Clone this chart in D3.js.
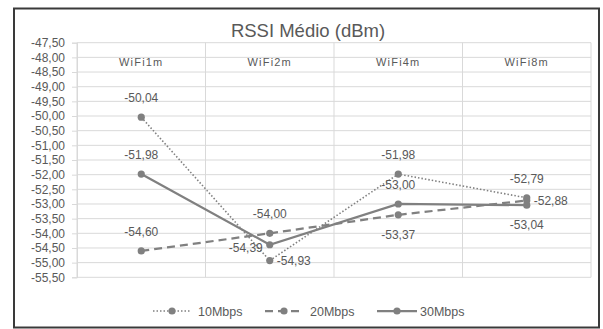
<!DOCTYPE html>
<html>
<head>
<meta charset="utf-8">
<script src="https://cdn.jsdelivr.net/npm/d3@7"></script>
<style>
  html, body { margin: 0; padding: 0; background: #fff; }
  svg { display: block; font-family: "Liberation Sans", Arial, sans-serif; }
</style>
</head>
<body>
<svg id="chart" width="603" height="329"></svg>
<script>
// Categories (test distances) and mean RSSI per throughput series, in dBm
const categories = ["WiFi1m", "WiFi2m", "WiFi4m", "WiFi8m"];
const series10 = [-50.04, -54.93, -51.98, -52.79];
const series20 = [-54.60, -54.00, -53.37, -52.88];
const series30 = [-51.98, -54.39, -53.00, -53.04];
const seriesNames = ["10Mbps", "20Mbps", "30Mbps"];
const yTicks = [-47.5, -48, -48.5, -49, -49.5, -50, -50.5, -51, -51.5, -52, -52.5, -53, -53.5, -54, -54.5, -55, -55.5];

// Where each value label sits relative to its point
const labelSide10 = ["above", "right", "above", "above"];
const labelSide20 = ["above", "above", "below", "right"];
const labelSide30 = ["above", "left", "above", "below"];

const svg = d3.select("#chart");
const ink = "#595959";
const lineColor = "#808080";
// Decimal comma and a plain hyphen for the sign
const fmt = v => d3.format(".2f")(v).replace(".", ",").replace("\u2212", "-");

// Chart frame
svg.append("rect")
  .attr("x", 14).attr("y", 8.5).attr("width", 585).attr("height", 319)
  .attr("fill", "#fff").attr("stroke", "#3a3a3a").attr("stroke-width", 2);

// Title
svg.append("text")
  .attr("x", 308).attr("y", 37)
  .attr("text-anchor", "middle")
  .attr("font-size", 18.5).attr("fill", ink)
  .text("RSSI Médio (dBm)");

const plot = { left: 77, right: 591, top: 42.7, bottom: 277.3 };

const x = d3.scaleBand().domain(categories).range([plot.left, plot.right]);
const y = d3.scaleLinear().domain([-55.5, -47.5]).range([plot.bottom, plot.top]);

// Horizontal gridlines
svg.append("g").selectAll("line").data(yTicks).join("line")
  .attr("x1", plot.left).attr("x2", plot.right)
  .attr("y1", d => y(d)).attr("y2", d => y(d))
  .attr("stroke", "#d9d9d9").attr("stroke-width", 1);

// Vertical category separators
const bounds = categories.map(c => x(c)).concat([plot.right]);
svg.append("g").selectAll("line").data(bounds).join("line")
  .attr("x1", d => d).attr("x2", d => d)
  .attr("y1", plot.top).attr("y2", plot.bottom)
  .attr("stroke", "#d9d9d9").attr("stroke-width", 1);

// Y axis with tick labels
const yAxis = d3.axisLeft(y).tickValues(yTicks).tickFormat(fmt).tickSize(5).tickPadding(7);
const gy = svg.append("g").attr("transform", `translate(${plot.left},0)`).call(yAxis);
gy.select(".domain").attr("stroke", "#d9d9d9");
gy.selectAll(".tick line").attr("stroke", "#d9d9d9");
gy.selectAll(".tick text").attr("fill", ink).attr("font-size", 12)
  .attr("font-family", "Liberation Sans, Arial, sans-serif");

// Category labels along the top
const xAxis = d3.axisTop(x).tickSize(0).tickPadding(0);
const gx = svg.append("g").attr("transform", `translate(0,${plot.top + 23})`).call(xAxis);
gx.select(".domain").remove();
gx.selectAll(".tick text").attr("fill", ink).attr("font-size", 11)
  .attr("letter-spacing", 1.2)
  .attr("font-family", "Liberation Sans, Arial, sans-serif");

const seriesList = [
  { name: seriesNames[0], values: series10, sides: labelSide10, dash: "1.5 2", width: 1.6 },
  { name: seriesNames[1], values: series20, sides: labelSide20, dash: "8 5", width: 2.25 },
  { name: seriesNames[2], values: series30, sides: labelSide30, dash: null, width: 2.25 }
];

const line = d3.line()
  .x((d, i) => x(categories[i]) + x.bandwidth() / 2)
  .y(d => y(d));

seriesList.forEach(s => {
  const g = svg.append("g");
  g.append("path")
    .datum(s.values)
    .attr("d", line)
    .attr("fill", "none")
    .attr("stroke", lineColor)
    .attr("stroke-width", s.width)
    .attr("stroke-dasharray", s.dash);
  g.selectAll("circle").data(s.values).join("circle")
    .attr("cx", (d, i) => x(categories[i]) + x.bandwidth() / 2)
    .attr("cy", d => y(d))
    .attr("r", 3.6)
    .attr("fill", lineColor);
});

// Value labels
seriesList.forEach(s => {
  svg.append("g").selectAll("text").data(s.values).join("text")
    .attr("font-size", 12).attr("fill", ink)
    .each(function (d, i) {
      const cx = x(categories[i]) + x.bandwidth() / 2;
      const cy = y(d);
      const side = s.sides[i];
      const t = d3.select(this).text(fmt(d));
      if (side === "above") {
        t.attr("x", cx).attr("y", cy - 15).attr("text-anchor", "middle");
      } else if (side === "below") {
        t.attr("x", cx).attr("y", cy + 24).attr("text-anchor", "middle");
      } else if (side === "right") {
        t.attr("x", cx + 7).attr("y", cy + 4.5).attr("text-anchor", "start");
      } else {
        t.attr("x", cx - 7).attr("y", cy + 7).attr("text-anchor", "end");
      }
    });
});

// Legend
const legendY = 311;
const legendItems = [
  { start: 153, end: 191, text: 198 },
  { start: 265, end: 303, text: 310 },
  { start: 377, end: 417, text: 420 }
];
seriesList.forEach((s, i) => {
  const L = legendItems[i];
  const g = svg.append("g");
  g.append("line")
    .attr("x1", L.start).attr("x2", L.end)
    .attr("y1", legendY).attr("y2", legendY)
    .attr("stroke", lineColor).attr("stroke-width", s.width)
    .attr("stroke-dasharray", s.dash);
  g.append("circle")
    .attr("cx", (L.start + L.end) / 2).attr("cy", legendY).attr("r", 3.6)
    .attr("fill", lineColor);
  g.append("text")
    .attr("x", L.text).attr("y", legendY + 4.5)
    .attr("font-size", 12.5).attr("fill", ink)
    .text(s.name);
});
</script>
</body>
</html>
